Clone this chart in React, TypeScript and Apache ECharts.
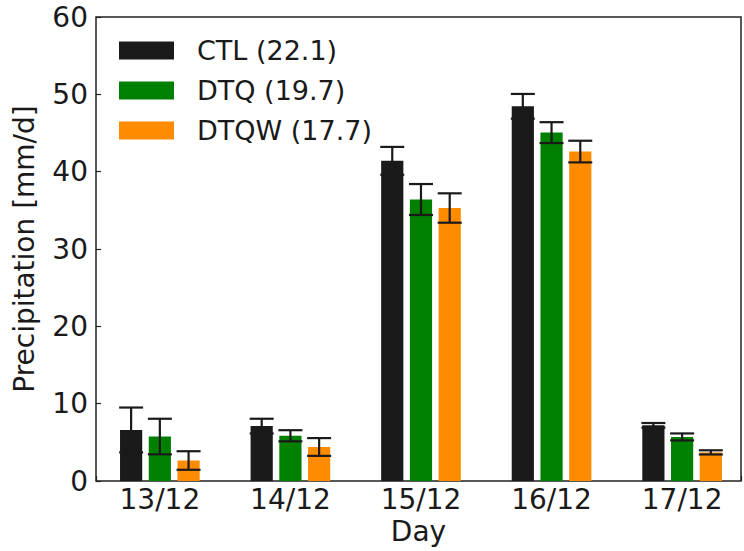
import React, { useEffect, useRef } from "react";
import * as echarts from "echarts";

// Daily precipitation for three experiments, with error bars (mm/d)
const days = ["13/12", "14/12", "15/12", "16/12", "17/12"];
const seriesNames = ["CTL (22.1)", "DTQ (19.7)", "DTQW (17.7)"];
const ctlValues = [6.6, 7.1, 41.4, 48.45, 7.2];
const ctlErrors = [2.9, 0.95, 1.8, 1.6, 0.3];
const dtqValues = [5.75, 5.85, 36.4, 45.05, 5.7];
const dtqErrors = [2.3, 0.72, 2.0, 1.35, 0.45];
const dtqwValues = [2.65, 4.4, 35.3, 42.6, 3.7];
const dtqwErrors = [1.2, 1.15, 1.9, 1.4, 0.27];
const yTicks = [0, 10, 20, 30, 40, 50, 60];

const FONT = "DejaVu Sans";
const BAR_W = 0.17; // bar width in day units
const CAP_PX = 24; // error-bar cap width
const ERR_COLOR = "#1a1a1a";

const groups = [
  { name: seriesNames[0], values: ctlValues, errors: ctlErrors, color: "#1a1a1a", offset: -0.22 },
  { name: seriesNames[1], values: dtqValues, errors: dtqErrors, color: "#008000", offset: 0 },
  { name: seriesNames[2], values: dtqwValues, errors: dtqwErrors, color: "#ff8c00", offset: 0.22 },
];

export default function App() {
  const ref = useRef<HTMLDivElement>(null);

  useEffect(() => {
    document.body.style.margin = "0";
    if (!ref.current) return;
    const chart = echarts.init(ref.current, undefined, { renderer: "svg" });

    const series = groups.map((g) => ({
      type: "custom",
      name: g.name,
      itemStyle: { color: g.color },
      encode: { x: 0, y: 1 },
      data: g.values.map((v, i) => [i, v, g.errors[i]]),
      renderItem: (_params: any, api: any) => {
        const x = api.value(0) + g.offset;
        const v = api.value(1);
        const e = api.value(2);
        const base = api.coord([x, 0]);
        const top = api.coord([x, v]);
        const hi = api.coord([x, v + e]);
        const lo = api.coord([x, v - e]);
        const w = api.size([BAR_W, 0])[0];
        const half = CAP_PX / 2;
        const errStyle = { stroke: ERR_COLOR, lineWidth: 2.2 };
        return {
          type: "group",
          children: [
            {
              type: "rect",
              shape: { x: top[0] - w / 2, y: top[1], width: w, height: base[1] - top[1] },
              style: { fill: g.color },
            },
            { type: "line", shape: { x1: hi[0], y1: hi[1], x2: lo[0], y2: lo[1] }, style: errStyle },
            { type: "line", shape: { x1: hi[0] - half, y1: hi[1], x2: hi[0] + half, y2: hi[1] }, style: errStyle },
            { type: "line", shape: { x1: lo[0] - half, y1: lo[1], x2: lo[0] + half, y2: lo[1] }, style: errStyle },
          ],
        };
      },
    }));

    chart.setOption({
      animation: false,
      backgroundColor: "#ffffff",
      textStyle: { fontFamily: FONT },
      grid: {
        left: 96,
        right: 2,
        top: 17,
        bottom: 70,
        show: true,
        borderColor: "#222222",
        borderWidth: 1.5,
        backgroundColor: "transparent",
      },
      legend: {
        orient: "vertical",
        left: 119,
        top: 37,
        padding: 0,
        icon: "rect",
        itemWidth: 55,
        itemHeight: 18,
        itemGap: 13,
        data: seriesNames,
        textStyle: { fontSize: 27, color: "#1a1a1a", fontFamily: FONT, padding: [0, 0, 0, 18] },
      },
      xAxis: {
        type: "value",
        min: -0.489,
        max: 4.451,
        splitNumber: 5,
        name: "Day",
        nameLocation: "middle",
        nameGap: 36,
        nameTextStyle: { fontSize: 28, color: "#1a1a1a", fontFamily: FONT },
        axisLine: { show: false, onZero: false },
        axisTick: { show: true, inside: true, length: 5, lineStyle: { color: "#222222", width: 1.2 } },
        splitLine: { show: false },
        axisLabel: {
          fontSize: 28,
          color: "#1a1a1a",
          fontFamily: FONT,
          margin: 4,
          formatter: (val: number) => {
            const i = Math.round(val);
            return Math.abs(val - i) < 1e-6 && days[i] ? days[i] : "";
          },
        },
      },
      yAxis: {
        type: "value",
        min: yTicks[0],
        max: yTicks[yTicks.length - 1],
        interval: yTicks[1] - yTicks[0],
        name: "Precipitation [mm/d]",
        nameLocation: "middle",
        nameGap: 58,
        nameTextStyle: { fontSize: 28, color: "#1a1a1a", fontFamily: FONT },
        axisLine: { show: false, onZero: false },
        axisTick: { show: true, inside: true, length: 5, lineStyle: { color: "#222222", width: 1.2 } },
        splitLine: { show: false },
        axisLabel: { fontSize: 28, color: "#1a1a1a", fontFamily: FONT, margin: 8 },
      },
      series,
    });

    return () => chart.dispose();
  }, []);

  return <div ref={ref} style={{ width: 744, height: 551 }} />;
}
